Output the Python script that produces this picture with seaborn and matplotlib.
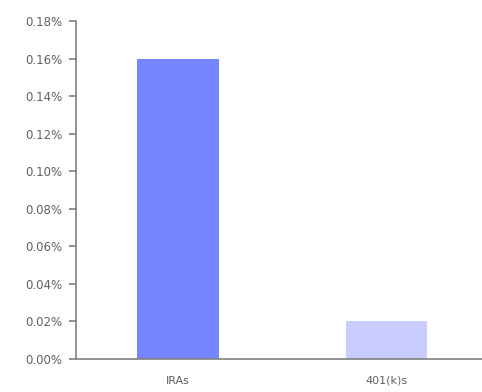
import matplotlib
matplotlib.use("Agg")
import matplotlib.pyplot as plt
import seaborn as sns
import pandas as pd
from matplotlib.ticker import FuncFormatter, MultipleLocator

# Share values (percent) by account type
categories = ["IRAs", "401(k)s"]
values = [0.16, 0.02]
bar_colors = ["#7585FF", "#C8CCFF"]

df = pd.DataFrame({"account": categories, "share": values})

sns.set_style("white")
plt.rcParams["font.family"] = ["DejaVu Sans"]

fig = plt.figure(figsize=(4.82, 3.92), dpi=100)
ax = fig.add_axes([76 / 482, 33 / 392, 406 / 482, 338 / 392])

sns.barplot(data=df, x="account", y="share", hue="account", palette=bar_colors,
            width=0.39, legend=False, ax=ax, saturation=1, linewidth=0)

ax.set_xlim(-0.489, 1.458)
ax.set_ylim(0, 0.18)
ax.yaxis.set_major_locator(MultipleLocator(0.02))
ax.yaxis.set_major_formatter(FuncFormatter(lambda v, p: f"{v:.2f}%"))
ax.set_xlabel("")
ax.set_ylabel("")

for side in ["top", "right"]:
    ax.spines[side].set_visible(False)
for side in ["left", "bottom"]:
    ax.spines[side].set_color("#808080")
    ax.spines[side].set_linewidth(1.2)

ax.tick_params(axis="y", direction="out", length=5, width=1.2, color="#808080",
               labelsize=8.5, labelcolor="#606060", pad=5, left=True)
ax.tick_params(axis="x", length=0, labelsize=8, labelcolor="#606060", pad=12)

fig.savefig("out.png", dpi=100)
